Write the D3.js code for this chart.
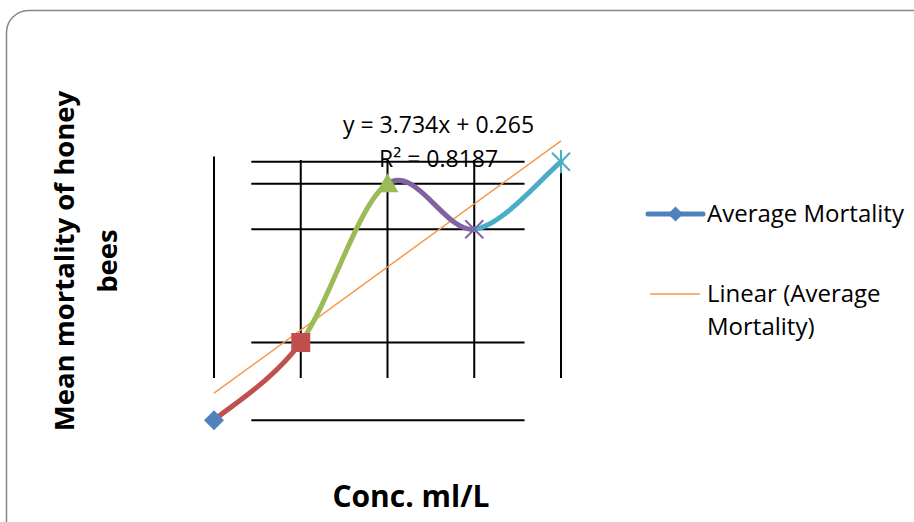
<!DOCTYPE html>
<html>
<head>
<meta charset="utf-8">
<script src="https://cdn.jsdelivr.net/npm/d3@7"></script>
<style>
  body { margin: 0; background: #fff; }
  text { font-family: "Open Sans", Lato, sans-serif; fill: #000; }
</style>
</head>
<body>
<svg id="chart"></svg>
<script>
// data
var conc = [1, 2, 3, 4, 5];
var mortality = [2.4, 7.0, 16.4, 13.7, 17.7];
var markerTypes = ["diamond", "square", "triangle", "x", "star"];
var pointColors = ["#4F81BD", "#C0504D", "#9BBB59", "#8064A2", "#4BACC6"];
var trendSlope = 3.734;
var trendIntercept = 0.265;
var trendR2 = 0.8187;
var seriesName = "Average Mortality";
var trendName = ["Linear (Average", "Mortality)"];
var yTitle = ["Mean mortality of honey", "bees"];
var xTitle = "Conc. ml/L";

var W = 914, H = 522;
var svg = d3.select("#chart").attr("width", W).attr("height", H);

// chart frame
svg.append("rect")
  .attr("x", 6.5).attr("y", 10.5)
  .attr("width", 940).attr("height", 535)
  .attr("rx", 22)
  .attr("fill", "#fff").attr("stroke", "#868686").attr("stroke-width", 1.5);

var xScale = d3.scaleLinear().domain([1, 5]).range([214, 561]);
var yScale = d3.scaleLinear().domain([0, 20]).range([460.8, 122.8]);

var pts = conc.map(function(c, i) { return [xScale(c), yScale(mortality[i])]; });

// odd drop/grid lines of the original
var g = svg.append("g");
conc.forEach(function(c, i) {
  g.append("line")
    .attr("x1", xScale(c)).attr("x2", xScale(c))
    .attr("y1", yScale(i == 0 ? 18.0 : 17.8)).attr("y2", yScale(4.9))
    .attr("stroke", "#000").attr("stroke-width", 2);
});
mortality.forEach(function(m) {
  g.append("line")
    .attr("x1", xScale(1.43)).attr("x2", xScale(4.58))
    .attr("y1", yScale(m)).attr("y2", yScale(m))
    .attr("stroke", "#000").attr("stroke-width", 2);
});

// trendline
g.append("line")
  .attr("x1", xScale(1)).attr("y1", yScale(trendSlope * 1 + trendIntercept))
  .attr("x2", xScale(5)).attr("y2", yScale(trendSlope * 5 + trendIntercept))
  .attr("stroke", "#F79646").attr("stroke-width", 1.5);

// smoothed segments, each coloured by its end point
for (var i = 0; i < pts.length - 1; i++) {
  var p0 = pts[Math.max(i - 1, 0)], p1 = pts[i], p2 = pts[i + 1], p3 = pts[Math.min(i + 2, pts.length - 1)];
  var c1 = [p1[0] + (p2[0] - p0[0]) / 6, p1[1] + (p2[1] - p0[1]) / 6];
  var c2 = [p2[0] - (p3[0] - p1[0]) / 6, p2[1] - (p3[1] - p1[1]) / 6];
  var path = d3.path();
  path.moveTo(p1[0], p1[1]);
  path.bezierCurveTo(c1[0], c1[1], c2[0], c2[1], p2[0], p2[1]);
  g.append("path").attr("d", path.toString())
    .attr("fill", "none").attr("stroke", pointColors[i + 1])
    .attr("stroke-width", 5).attr("stroke-linecap", "round");
}

function marker(sel, type, x, y, r, color) {
  var m = sel.append("g").attr("transform", "translate(" + x + "," + y + ")");
  if (type == "diamond") {
    m.append("path").attr("d", "M0," + (-r) + "L" + r + ",0L0," + r + "L" + (-r) + ",0Z").attr("fill", color);
  } else if (type == "square") {
    m.append("rect").attr("x", -r).attr("y", -r).attr("width", 2 * r).attr("height", 2 * r).attr("fill", color);
  } else if (type == "triangle") {
    m.append("path").attr("d", "M0," + (-r * 1.1) + "L" + (r * 1.15) + "," + (r * 0.9) + "L" + (-r * 1.15) + "," + (r * 0.9) + "Z").attr("fill", color);
  } else {
    var d = "M" + (-r) + "," + (-r) + "L" + r + "," + r + "M" + (-r) + "," + r + "L" + r + "," + (-r);
    if (type == "star") d += "M0," + (-r * 1.3) + "L0," + (r * 1.3);
    m.append("path").attr("d", d).attr("stroke", color).attr("stroke-width", 2).attr("fill", "none");
  }
}

pts.forEach(function(p, i) {
  var r = markerTypes[i] == "diamond" ? 10 : markerTypes[i] == "square" ? 9.5 : markerTypes[i] == "triangle" ? 9.5 : 9;
  marker(g, markerTypes[i], p[0], p[1], r, pointColors[i]);
});

// trendline label
svg.append("text").attr("x", 343).attr("y", 133).style("font-size", "23px")
  .text("y = " + trendSlope + "x + " + trendIntercept);
svg.append("text").attr("x", 379).attr("y", 167).style("font-size", "23px")
  .text("R\u00b2 = " + trendR2);

// legend
var lg = svg.append("g");
lg.append("line").attr("x1", 648).attr("x2", 703).attr("y1", 214).attr("y2", 214)
  .attr("stroke", pointColors[0]).attr("stroke-width", 5).attr("stroke-linecap", "round");
marker(lg, "diamond", 675.5, 214, 7.5, pointColors[0]);
lg.append("text").attr("x", 707).attr("y", 222).style("font-size", "24px").text(seriesName);
lg.append("line").attr("x1", 650).attr("x2", 700).attr("y1", 294).attr("y2", 294)
  .attr("stroke", "#F79646").attr("stroke-width", 1.5);
lg.append("text").attr("x", 707).attr("y", 302).style("font-size", "24px").text(trendName[0]);
lg.append("text").attr("x", 707).attr("y", 335).style("font-size", "24px").text(trendName[1]);

// axis titles
var yt = svg.append("text").attr("transform", "translate(0,261) rotate(-90)")
  .attr("text-anchor", "middle").style("font-size", "27.5px").style("font-weight", "bold");
yt.append("tspan").attr("x", 0).attr("y", 74).text(yTitle[0]);
yt.append("tspan").attr("x", 0).attr("y", 117).text(yTitle[1]);

svg.append("text").attr("x", 411).attr("y", 507).attr("text-anchor", "middle")
  .style("font-size", "30px").style("font-weight", "bold").text(xTitle);
</script>
</body>
</html>
